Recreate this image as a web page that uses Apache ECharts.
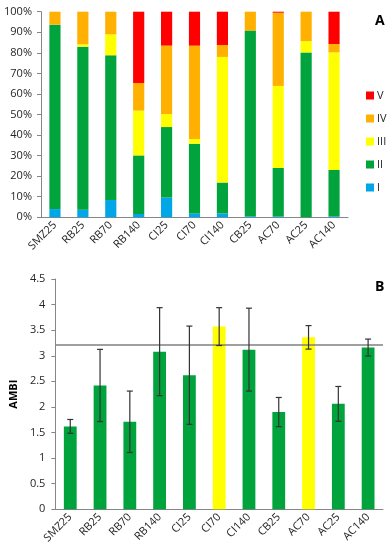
<!DOCTYPE html>
<html>
<head>
<meta charset="utf-8">
<script src="https://cdn.jsdelivr.net/npm/echarts@6/dist/echarts.min.js"></script>
<style>html,body{margin:0;padding:0;background:#fff}#c{width:390px;height:550px}</style>
</head>
<body>
<div id="c"></div>
<script>
const categories = ['SMZ25','RB25','RB70','RB140','CI25','CI70','CI140','CB25','AC70','AC25','AC140'];
const classI   = [4.0, 3.7, 8.4, 1.6, 9.6, 1.9, 1.9, 0.5, 0.5, 0.0, 0.5];
const classII  = [89.7, 79.3, 70.4, 28.5, 34.3, 33.9, 15.0, 90.3, 23.5, 80.2, 22.5];
const classIII = [0.0, 1.1, 10.2, 21.8, 6.3, 2.3, 61.1, 0.0, 39.9, 5.5, 57.2];
const classIV  = [6.3, 15.9, 11.0, 13.4, 33.3, 45.4, 5.8, 9.2, 35.6, 14.3, 4.1];
const classV   = [0.0, 0.0, 0.0, 34.7, 16.5, 16.5, 16.2, 0.0, 0.5, 0.0, 15.7];
const ambiMean = [1.62, 2.42, 1.71, 3.08, 2.62, 3.57, 3.12, 1.90, 3.36, 2.06, 3.16];
const ambiErr  = [0.135, 0.705, 0.60, 0.86, 0.96, 0.37, 0.81, 0.285, 0.23, 0.34, 0.166];
const ambiThreshold = 3.21;
const pctTicks = [0,10,20,30,40,50,60,70,80,90,100];

const FONT = 'Open Sans';
const TXT = '#262626';
const AX = '#868686';
const colors = {V:'#FF0000', IV:'#FFB000', III:'#FFFF00', II:'#00A33C', I:'#00A6E6'};

const chart = echarts.init(document.getElementById('c'), null, {renderer:'canvas'});

function stackSeries(name, data){
  return {name, type:'bar', stack:'A', xAxisIndex:0, yAxisIndex:0, data,
    barWidth:'40%', itemStyle:{color:colors[name]}, emphasis:{disabled:true}};
}

const option = {
  animation:false,
  textStyle:{fontFamily:FONT},
  title:[
    {text:'A', left:370, top:9, textStyle:{fontSize:14, fontWeight:'bold', color:'#000', fontFamily:FONT}},
    {text:'B', left:370, top:275, textStyle:{fontSize:14, fontWeight:'bold', color:'#000', fontFamily:FONT}}
  ],
  legend:{
    data:['V','IV','III','II','I'], orient:'vertical', left:361, top:85,
    itemWidth:8, itemHeight:8, itemGap:12, icon:'rect',
    textStyle:{fontSize:11, color:TXT, fontFamily:FONT, padding:[0,0,0,-2]}
  },
  grid:[
    {left:41, right:42, top:11.7, height:205.6},
    {left:52, right:7, top:279, height:230.3}
  ],
  xAxis:[
    {type:'category', gridIndex:0, data:categories,
      axisLine:{lineStyle:{color:AX}}, axisTick:{lineStyle:{color:AX}, length:4},
      axisLabel:{rotate:45, fontSize:11, color:TXT, margin:6, interval:0, fontFamily:FONT}},
    {type:'category', gridIndex:1, data:categories,
      axisLine:{lineStyle:{color:AX}}, axisTick:{lineStyle:{color:AX}, length:4},
      axisLabel:{rotate:45, fontSize:11, color:TXT, margin:6, interval:0, fontFamily:FONT}}
  ],
  yAxis:[
    {type:'value', gridIndex:0, min:pctTicks[0], max:pctTicks[pctTicks.length-1], interval:10,
      splitLine:{show:false}, axisLine:{show:true, lineStyle:{color:AX}},
      axisTick:{show:true, length:4, lineStyle:{color:AX}},
      axisLabel:{formatter:'{value}%', fontSize:11, color:TXT, margin:9, fontFamily:FONT}},
    {type:'value', gridIndex:1, min:0, max:4.5, interval:0.5,
      name:'AMBI', nameLocation:'middle', nameRotate:90, nameGap:31,
      nameTextStyle:{fontWeight:'bold', fontSize:11, color:'#000', fontFamily:FONT},
      splitLine:{show:false}, axisLine:{show:true, lineStyle:{color:AX}},
      axisTick:{show:true, length:4, lineStyle:{color:AX}},
      axisLabel:{fontSize:11, color:TXT, margin:10, fontFamily:FONT}}
  ],
  series:[
    stackSeries('I', classI),
    stackSeries('II', classII),
    stackSeries('III', classIII),
    stackSeries('IV', classIV),
    stackSeries('V', classV),
    {type:'bar', xAxisIndex:1, yAxisIndex:1, barWidth:'43%',
      data: ambiMean.map(v => ({value:v, itemStyle:{color: v > ambiThreshold ? colors.III : colors.II}})),
      emphasis:{disabled:true},
      markLine:{silent:true, symbol:'none', label:{show:false},
        lineStyle:{color:'#7f7f7f', width:1.5, type:'solid'},
        data:[{yAxis:ambiThreshold}]}
    },
    {type:'custom', xAxisIndex:1, yAxisIndex:1, z:10,
      data: ambiMean.map((m,i)=>[i, m - ambiErr[i], m + ambiErr[i]]),
      renderItem:function(params, api){
        const x = api.value(0);
        const lo = api.coord([x, api.value(1)]);
        const hi = api.coord([x, api.value(2)]);
        const w = 3;
        const st = {stroke:'#333', lineWidth:1.2};
        return {type:'group', children:[
          {type:'line', shape:{x1:lo[0], y1:lo[1], x2:hi[0], y2:hi[1]}, style:st},
          {type:'line', shape:{x1:lo[0]-w, y1:lo[1], x2:lo[0]+w, y2:lo[1]}, style:st},
          {type:'line', shape:{x1:hi[0]-w, y1:hi[1], x2:hi[0]+w, y2:hi[1]}, style:st}
        ]};
      }
    }
  ]
};
chart.setOption(option);
</script>
</body>
</html>
